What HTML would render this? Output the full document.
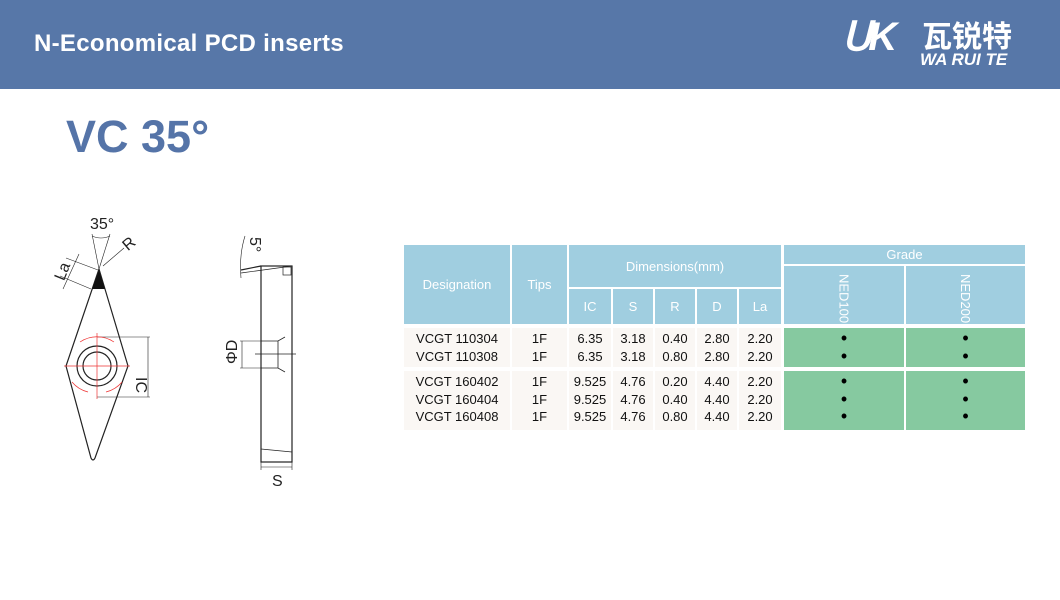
<!DOCTYPE html>
<html><head><meta charset="utf-8"><style>
*{margin:0;padding:0;box-sizing:border-box}
body{width:1060px;height:600px;background:#fff;position:relative;overflow:hidden;font-family:"Liberation Sans","Noto Sans CJK SC",sans-serif}
.a{position:absolute}
.h{background:#a0cee0;color:#fff;font-size:13px;display:flex;align-items:center;justify-content:center}
.b{background:#faf7f4;color:#111;font-size:13px;line-height:17.5px;text-align:center;padding-top:2px}
.g{background:#86c9a0;font-size:18px;line-height:17.5px;text-align:center;padding-top:2px;color:#000}
.v{writing-mode:vertical-rl;align-items:center;justify-content:flex-start;padding-top:8px}
</style></head><body>
<div class="a" style="left:0;top:0;width:1060px;height:89px;background:#5777a8"></div>
<div class="a" style="left:34px;top:30px;color:#fff;font-size:24px;font-weight:bold;letter-spacing:0.3px">N-Economical PCD inserts</div>
<div class="a" style="left:842px;top:14px;color:#fff;font-size:40px;font-weight:bold;font-style:italic;letter-spacing:-3px">ՍK</div>
<div class="a" style="left:922px;top:16px;color:#fff;font-family:'Noto Sans CJK SC',sans-serif;font-size:30px;font-weight:bold;line-height:36px">瓦锐特</div>
<div class="a" style="left:920px;top:50px;color:#fff;font-size:17px;font-weight:bold;font-style:italic">WA RUI TE</div>
<div class="a" style="left:66px;top:111px;color:#5574a8;font-size:45px;font-weight:bold">VC 35°</div>

<svg class="a" style="left:0;top:0" width="400" height="600" viewBox="0 0 400 600">
<g fill="none" stroke="#222" stroke-width="1.2">
<path d="M99,269 L128,366 L95,458 Q93,462 91,458 L66,366 Z"/>
<circle cx="97" cy="366" r="20"/><circle cx="97" cy="366" r="14"/>
<line x1="97" y1="337" x2="150" y2="337" stroke-width=".6"/>
<line x1="97" y1="397" x2="150" y2="397" stroke-width=".6"/>
<line x1="148" y1="337" x2="148" y2="397" stroke-width=".6"/>
<line x1="92" y1="234" x2="99" y2="269" stroke-width=".6"/>
<line x1="110" y1="234" x2="99" y2="269" stroke-width=".6"/>
<path d="M92,236 Q101,240 110,236" stroke-width=".6"/>
<line x1="124" y1="248" x2="103" y2="266" stroke-width=".6"/>
<line x1="66" y1="258" x2="98" y2="270" stroke-width=".6"/>
<line x1="60" y1="276" x2="91" y2="289" stroke-width=".6"/>
<line x1="79" y1="254" x2="63" y2="289" stroke-width=".6"/>
<rect x="261" y="266" width="31" height="196"/>
<line x1="241" y1="270" x2="261" y2="266"/>
<line x1="241" y1="273" x2="292" y2="266" stroke-width=".7"/>
<path d="M245,236 Q239,255 241,278" stroke-width=".6"/>
<rect x="283" y="267" width="8" height="8" stroke-width=".7"/>
<path d="M261,341 H278 L285,337 M261,368 H278 L285,372 M278,341 V368" stroke-width=".8"/>
<line x1="255" y1="354" x2="296" y2="354" stroke-width=".8"/>
<line x1="240" y1="341" x2="261" y2="341" stroke-width=".6"/>
<line x1="240" y1="368" x2="261" y2="368" stroke-width=".6"/>
<line x1="242" y1="341" x2="242" y2="368" stroke-width=".6"/>
<line x1="261" y1="449" x2="292" y2="452" stroke-width=".7"/>
<line x1="261" y1="462" x2="261" y2="470" stroke-width=".6"/>
<line x1="292" y1="462" x2="292" y2="470" stroke-width=".6"/>
<line x1="261" y1="467" x2="292" y2="467" stroke-width=".6"/>
</g>
<path d="M92,289 L99,270 L105,289 Z" fill="#111"/>
<g stroke="#e33" stroke-width=".7" fill="none">
<line x1="97" y1="333" x2="97" y2="399"/><line x1="64" y1="366" x2="130" y2="366"/>
<path d="M80,342 A30,30 0 0 1 114,342"/><path d="M72,382 A30,30 0 0 0 88,392"/><path d="M122,382 A30,30 0 0 1 106,392"/>
</g>
<g font-family="Liberation Sans" font-size="16" fill="#222">
<text x="90" y="229">35°</text>
<text x="123" y="248" transform="rotate(-40 130 243)">R</text>
<text x="52" y="276" transform="rotate(-68 62 270)">La</text>
<text x="153" y="374" transform="rotate(90 143 367)">IC</text>
<text x="244" y="243" transform="rotate(90 250 243)">5°</text>
<text x="221" y="362" transform="rotate(-90 230 355)">ΦD</text>
<text x="272" y="486">S</text>
</g>
</svg>

<div class="a h" style="left:404px;top:245px;width:106px;height:79px">Designation</div>
<div class="a h" style="left:512px;top:245px;width:55px;height:79px">Tips</div>
<div class="a h" style="left:569px;top:245px;width:212px;height:42px">Dimensions(mm)</div>
<div class="a h" style="left:569px;top:289px;width:42px;height:35px">IC</div>
<div class="a h" style="left:613px;top:289px;width:40px;height:35px">S</div>
<div class="a h" style="left:655px;top:289px;width:40px;height:35px">R</div>
<div class="a h" style="left:697px;top:289px;width:40px;height:35px">D</div>
<div class="a h" style="left:739px;top:289px;width:42px;height:35px">La</div>
<div class="a h" style="left:784px;top:245px;width:241px;height:19px">Grade</div>
<div class="a h v" style="left:784px;top:266px;width:120px;height:58px">NED100</div>
<div class="a h v" style="left:906px;top:266px;width:119px;height:58px">NED200</div>

<div class="a b" style="left:404px;top:328px;width:106px;height:39px">VCGT 110304<br>VCGT 110308</div>
<div class="a b" style="left:512px;top:328px;width:55px;height:39px">1F<br>1F</div>
<div class="a b" style="left:569px;top:328px;width:42px;height:39px">6.35<br>6.35</div>
<div class="a b" style="left:613px;top:328px;width:40px;height:39px">3.18<br>3.18</div>
<div class="a b" style="left:655px;top:328px;width:40px;height:39px">0.40<br>0.80</div>
<div class="a b" style="left:697px;top:328px;width:40px;height:39px">2.80<br>2.80</div>
<div class="a b" style="left:739px;top:328px;width:42px;height:39px">2.20<br>2.20</div>
<div class="a g" style="left:784px;top:328px;width:120px;height:39px">•<br>•</div>
<div class="a g" style="left:906px;top:328px;width:119px;height:39px">•<br>•</div>

<div class="a b" style="left:404px;top:371px;width:106px;height:59px">VCGT 160402<br>VCGT 160404<br>VCGT 160408</div>
<div class="a b" style="left:512px;top:371px;width:55px;height:59px">1F<br>1F<br>1F</div>
<div class="a b" style="left:569px;top:371px;width:42px;height:59px">9.525<br>9.525<br>9.525</div>
<div class="a b" style="left:613px;top:371px;width:40px;height:59px">4.76<br>4.76<br>4.76</div>
<div class="a b" style="left:655px;top:371px;width:40px;height:59px">0.20<br>0.40<br>0.80</div>
<div class="a b" style="left:697px;top:371px;width:40px;height:59px">4.40<br>4.40<br>4.40</div>
<div class="a b" style="left:739px;top:371px;width:42px;height:59px">2.20<br>2.20<br>2.20</div>
<div class="a g" style="left:784px;top:371px;width:120px;height:59px">•<br>•<br>•</div>
<div class="a g" style="left:906px;top:371px;width:119px;height:59px">•<br>•<br>•</div>
</body></html>
